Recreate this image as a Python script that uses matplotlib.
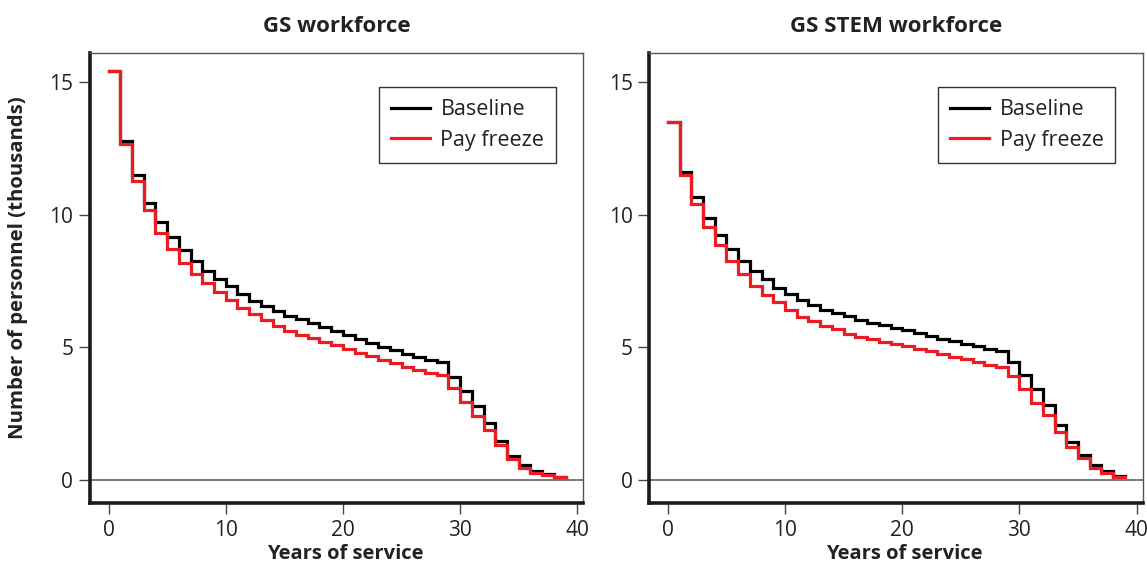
import numpy as np
import matplotlib
matplotlib.use("Agg")
import matplotlib.pyplot as plt

plt.rcParams['font.family'] = ['Open Sans', 'DejaVu Sans']

years = list(range(0, 39))

gs_baseline = [15.45, 12.78, 11.52, 10.45, 9.75, 9.17, 8.68, 8.26, 7.90, 7.57,
               7.30, 7.01, 6.77, 6.58, 6.38, 6.20, 6.06, 5.94, 5.76, 5.61,
               5.46, 5.30, 5.16, 5.03, 4.92, 4.77, 4.63, 4.52, 4.45, 3.90,
               3.34, 2.78, 2.16, 1.47, 0.90, 0.55, 0.34, 0.22, 0.12]
gs_freeze = [15.45, 12.66, 11.28, 10.19, 9.33, 8.71, 8.20, 7.77, 7.42, 7.08,
             6.79, 6.50, 6.25, 6.04, 5.82, 5.63, 5.48, 5.35, 5.22, 5.09,
             4.94, 4.79, 4.66, 4.53, 4.40, 4.28, 4.15, 4.05, 3.95, 3.47,
             2.96, 2.42, 1.90, 1.30, 0.80, 0.46, 0.27, 0.17, 0.10]

stem_baseline = [13.50, 11.62, 10.66, 9.87, 9.25, 8.71, 8.26, 7.89, 7.58, 7.26,
                 7.02, 6.79, 6.62, 6.42, 6.29, 6.17, 6.04, 5.93, 5.83, 5.73,
                 5.64, 5.54, 5.42, 5.33, 5.23, 5.14, 5.04, 4.95, 4.87, 4.45,
                 3.95, 3.42, 2.83, 2.08, 1.45, 0.94, 0.57, 0.34, 0.15]
stem_freeze = [13.50, 11.49, 10.40, 9.53, 8.86, 8.27, 7.77, 7.33, 6.98, 6.70,
               6.41, 6.16, 5.99, 5.82, 5.68, 5.51, 5.41, 5.33, 5.22, 5.14,
               5.05, 4.95, 4.86, 4.76, 4.64, 4.55, 4.44, 4.35, 4.27, 3.92,
               3.42, 2.92, 2.44, 1.81, 1.24, 0.81, 0.45, 0.27, 0.12]

titles = ["GS workforce", "GS STEM workforce"]
series_labels = ["Baseline", "Pay freeze"]
xticks = [0, 10, 20, 30, 40]
yticks = [0, 5, 10, 15]

RED = '#EC1C24'
W, H = 1147, 565
fig = plt.figure(figsize=(W / 100, H / 100), dpi=100)

panels = [(gs_baseline, gs_freeze), (stem_baseline, stem_freeze)]
lefts = [90, 649.3]
ax_w = 493.3
top_px, bot_px = 53.3, 503
ax_h = bot_px - top_px

for i, (base, frz) in enumerate(panels):
    ax = fig.add_axes([lefts[i] / W, 1 - bot_px / H, ax_w / W, ax_h / H])
    x = np.array(years + [years[-1] + 1])
    ax.axhline(0, color='#555555', lw=1.1, zorder=1)
    ax.step(x, base + [base[-1]], where='post', color='black', lw=2.3,
            label=series_labels[0], zorder=3, solid_joinstyle='miter')
    ax.step(x, frz + [frz[-1]], where='post', color=RED, lw=2.3,
            label=series_labels[1], zorder=4, solid_joinstyle='miter')
    ax.set_xlim(-1.58, 40.51)
    ax.set_ylim(-0.87, 16.1)
    ax.set_xticks(xticks)
    ax.set_yticks(yticks)
    ax.tick_params(axis='both', direction='out', length=8, width=1,
                   color='#444444', labelsize=15, labelcolor='#222222', pad=4)
    for s in ['left', 'bottom']:
        ax.spines[s].set_linewidth(2.6)
        ax.spines[s].set_color('#1a1a1a')
    for s in ['top', 'right']:
        ax.spines[s].set_linewidth(1.0)
        ax.spines[s].set_color('#555555')
    ax.set_title(titles[i], fontsize=16, fontweight='bold', color='#222222', pad=15)
    ax.set_xlabel("Years of service", fontsize=14.5, fontweight='bold', color='#222222')
    ax.xaxis.label.set_va('center')
    ax.xaxis.set_label_coords((345 - 90) / ax_w, (bot_px - 554) / ax_h)
    if i == 0:
        ax.set_ylabel("Number of personnel (thousands)", fontsize=14.7, fontweight='bold',
                      color='#222222')
        ax.yaxis.label.set_va('center')
        ax.yaxis.set_label_coords((18 - 90) / ax_w, (bot_px - 268) / ax_h)
    leg = ax.legend(loc='upper left', bbox_to_anchor=(0.586, 0.924), fontsize=15.5,
                    frameon=True, fancybox=False, edgecolor='#333333', framealpha=1,
                    handlelength=1.8, handletextpad=0.5, borderpad=0.55,
                    labelspacing=0.45, borderaxespad=0)
    leg.get_frame().set_linewidth(1.0)
    for t in leg.get_texts():
        t.set_color('#222222')

fig.savefig('out.png', dpi=100)
